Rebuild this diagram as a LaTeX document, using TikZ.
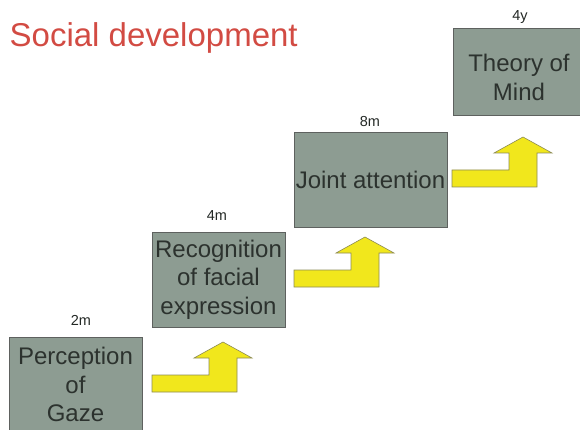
\documentclass[tikz,border=0pt]{standalone}
\usepackage{fontspec}
\setmainfont{Liberation Sans}
\definecolor{stagefill}{HTML}{8D9C92}
\definecolor{stageedge}{HTML}{5E615F}
\definecolor{stagetext}{HTML}{2C322E}
\definecolor{titlered}{HTML}{D24B43}
\definecolor{arrowfill}{HTML}{F1E71C}
\definecolor{arrowedge}{HTML}{8C8A55}
\begin{document}
\begin{tikzpicture}[x=1pt,y=-1pt,
  stagebox/.style={draw=stageedge, line width=0.9pt, fill=stagefill,
    text=stagetext, align=center, inner sep=0pt,
    font=\fontsize{24}{28.5}\selectfont},
  stagetextonly/.style={text=stagetext, align=center, inner sep=0pt,
    font=\fontsize{24}{28.5}\selectfont},
  agelabel/.style={text=stagetext!80!black, inner sep=0pt, anchor=base,
    font=\fontsize{14.5}{16}\selectfont},
  steparrow/.pic={
    \path[fill=arrowfill, draw=arrowedge, line width=0.6pt, line join=miter]
      (0,0) -- (85,0) -- (85,-34) -- (100,-34) -- (71,-50) -- (42,-34)
      -- (57,-34) -- (57,-17) -- (0,-17) -- cycle;
  }]
  \useasboundingbox (0,0) rectangle (580,430);
  \clip (0,0) rectangle (580,430);

  % heading
  \node[anchor=base west, inner sep=0pt, text=titlered,
        font=\fontsize{33}{36}\selectfont] (title) at (9.5,47) {Social development};

  % developmental stages
  \node[stagebox, minimum width=133pt, minimum height=95pt] (gaze) at (75.5,384.5)
    {Perception\\of\\Gaze};
  \node[stagebox, minimum width=133pt, minimum height=95pt] (face) at (218.5,279.5)
    {Recognition\\of facial\\expression};
  \node[stagebox, minimum width=153pt, minimum height=95pt] (joint) at (370.5,179.5)
    {Joint attention};
  \node[stagebox, minimum width=132pt, minimum height=87pt] (tom) at (519,71.5) {};
  \node[stagetextonly, yshift=-6pt] (tomtext) at (tom.center) {Theory of\\Mind};

  % ages
  \node[agelabel] (age1) at (81,325) {2m};
  \node[agelabel] (age2) at (217,221) {4m};
  \node[agelabel] (age3) at (370,127) {8m};
  \node[agelabel] (age4) at (520,21) {4y};

  % step arrows between stages
  \coordinate (s1) at (152,392);
  \coordinate (s2) at (294,287);
  \coordinate (s3) at (452,187);
  \pic at (s1) {steparrow};
  \pic at (s2) {steparrow};
  \pic at (s3) {steparrow};
\end{tikzpicture}
\end{document}
